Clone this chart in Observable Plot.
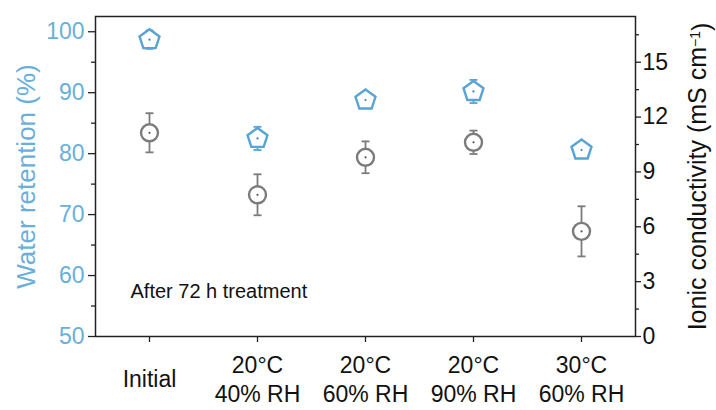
<!DOCTYPE html>
<html><head><meta charset="utf-8">
<script src="https://cdn.jsdelivr.net/npm/d3@7"></script>
<script src="https://cdn.jsdelivr.net/npm/@observablehq/plot@0.6"></script>
<style>body{margin:0;background:#fff}</style>
</head><body><div id="chart"></div>
<script>
const categories = ["Initial", "20°C\n40% RH", "20°C\n60% RH", "20°C\n90% RH", "30°C\n60% RH"];
const retention = [98.7, 82.5, 88.8, 90.2, 80.6];
const retentionErr = [1.5, 1.9, 0.6, 1.9, 0.6];
const conductivity = [11.14, 7.75, 9.8, 10.62, 5.75];
const conductivityErr = [1.07, 1.12, 0.87, 0.64, 1.37];
const retentionTicks = [50, 60, 70, 80, 90, 100];
const retentionMinor = [55, 65, 75, 85, 95];
const conductivityTicks = [0, 3, 6, 9, 12, 15];
const conductivityMinor = [1.5, 4.5, 7.5, 10.5, 13.5, 16.5];
const leftTitle = "Water retention (%)";
const rightTitle = "Ionic conductivity (mS cm";
const note = "After 72 h treatment";

const BLUE = "#5aa3d5";
const BLUE_TEXT = "#69afda";
const GRAY = "#7b7b7b";
// conductivity shares the frame with retention: 0 → 50, 17.5 → 102.5
const toLeft = c => 50 + 3 * c;

const rows = categories.map((cat, i) => ({
  cat,
  ret: retention[i], retLo: retention[i] - retentionErr[i], retHi: retention[i] + retentionErr[i],
  con: toLeft(conductivity[i]),
  conLo: toLeft(conductivity[i] - conductivityErr[i]),
  conHi: toLeft(conductivity[i] + conductivityErr[i])
}));

const pentagon = {
  draw(ctx, size) {
    const R = Math.sqrt(size / Math.PI);
    for (let i = 0; i < 5; i++) {
      const a = -Math.PI / 2 + i * 2 * Math.PI / 5;
      const x = R * Math.cos(a), y = R * Math.sin(a);
      if (i === 0) ctx.moveTo(x, y); else ctx.lineTo(x, y);
    }
    ctx.closePath();
  }
};
const cap = {
  draw(ctx, size) {
    const R = Math.sqrt(size / Math.PI);
    ctx.moveTo(-R, 0); ctx.lineTo(R, 0);
  }
};

const chart = Plot.plot({
  width: 716, height: 410,
  marginLeft: 95, marginRight: 81, marginTop: 16, marginBottom: 74,
  style: {fontFamily: "'Liberation Sans', Arial, sans-serif", background: "#fff", color: "#111"},
  x: {type: "point", domain: categories, padding: 0.5, axis: null},
  y: {domain: [50, 102.5], axis: null},
  marks: [
    // left axis
    Plot.axisY(retentionTicks, {anchor: "left", tickSize: 7, tickFormat: () => "", label: null, stroke: "#222", strokeWidth: 1.3}),
    Plot.axisY(retentionMinor, {anchor: "left", tickSize: 4, tickFormat: () => "", label: null, stroke: "#222", strokeWidth: 1.3}),
    Plot.axisY(retentionTicks, {anchor: "left", tickSize: 0, tickPadding: 11, label: null, fill: BLUE_TEXT, fontSize: 23}),
    // right axis
    Plot.axisY(conductivityTicks.map(toLeft), {anchor: "right", tickSize: 5, tickFormat: () => "", label: null, stroke: "#222", strokeWidth: 1.3}),
    Plot.axisY(conductivityMinor.map(toLeft), {anchor: "right", tickSize: 3, tickFormat: () => "", label: null, stroke: "#222", strokeWidth: 1.3}),
    Plot.axisY(conductivityTicks.map(toLeft), {anchor: "right", tickSize: 0, tickPadding: 7, label: null, fill: "#111", fontSize: 23,
      tickFormat: d => String(Math.round((d - 50) / 3))}),
    // x axis
    Plot.axisX(categories, {anchor: "bottom", tickSize: 6, tickFormat: () => "", label: null, stroke: "#222", strokeWidth: 1.3}),
    Plot.text(categories, {x: d => d, frameAnchor: "bottom", dy: 42, lineAnchor: "middle", lineHeight: 1.22, fontSize: 23, fill: "#111"}),
    Plot.frame({stroke: "#222", strokeWidth: 1.5}),
    // titles
    Plot.text([leftTitle], {frameAnchor: "left", dx: -69, rotate: -90, textAnchor: "middle", fill: BLUE_TEXT, fontSize: 26}),
    Plot.text([rightTitle + "  )"], {frameAnchor: "right", dx: 62, dy: 0, rotate: -90, textAnchor: "middle", fill: "#111", fontSize: 25}),
    Plot.text([note], {frameAnchor: "bottom-left", dx: 35, dy: -39, textAnchor: "start", fontSize: 20, fill: "#111"}),
    // conductivity
    Plot.ruleX(rows, {x: "cat", y1: "conLo", y2: "conHi", stroke: GRAY, strokeWidth: 1.8}),
    Plot.dot(rows, {x: "cat", y: "conLo", symbol: cap, r: 4, stroke: GRAY, strokeWidth: 1.8, fill: "none"}),
    Plot.dot(rows, {x: "cat", y: "conHi", symbol: cap, r: 4, stroke: GRAY, strokeWidth: 1.8, fill: "none"}),
    Plot.dot(rows, {x: "cat", y: "con", r: 8.5, stroke: GRAY, strokeWidth: 2.4, fill: "#fff"}),
    Plot.dot(rows, {x: "cat", y: "con", r: 1.1, fill: "#555", stroke: "none"}),
    // retention
    Plot.ruleX(rows, {x: "cat", y1: "retLo", y2: "retHi", stroke: BLUE, strokeWidth: 1.8}),
    Plot.dot(rows, {x: "cat", y: "retLo", symbol: cap, r: 4, stroke: BLUE, strokeWidth: 1.8, fill: "none"}),
    Plot.dot(rows, {x: "cat", y: "retHi", symbol: cap, r: 4, stroke: BLUE, strokeWidth: 1.8, fill: "none"}),
    Plot.dot(rows, {x: "cat", y: "ret", symbol: pentagon, r: 10.5, stroke: BLUE, strokeWidth: 2.4, fill: "#fff"}),
    Plot.dot(rows, {x: "cat", y: "ret", r: 1.1, fill: "#3a7fb0", stroke: "none"})
  ]
});
document.getElementById("chart").appendChild(chart);

// superscript for the unit in the right title
chart.querySelectorAll("text").forEach(t => {
  if (t.textContent === rightTitle + "  )") {
    t.textContent = "";
    const ns = "http://www.w3.org/2000/svg";
    const a = document.createElementNS(ns, "tspan"); a.textContent = rightTitle;
    const b = document.createElementNS(ns, "tspan"); b.textContent = "\u22121";
    b.setAttribute("dy", "-0.4em"); b.setAttribute("font-size", "14");
    const c = document.createElementNS(ns, "tspan"); c.textContent = ")";
    c.setAttribute("dy", "0.4em");
    t.append(a, b, c);
  }
});
</script>
</body></html>
